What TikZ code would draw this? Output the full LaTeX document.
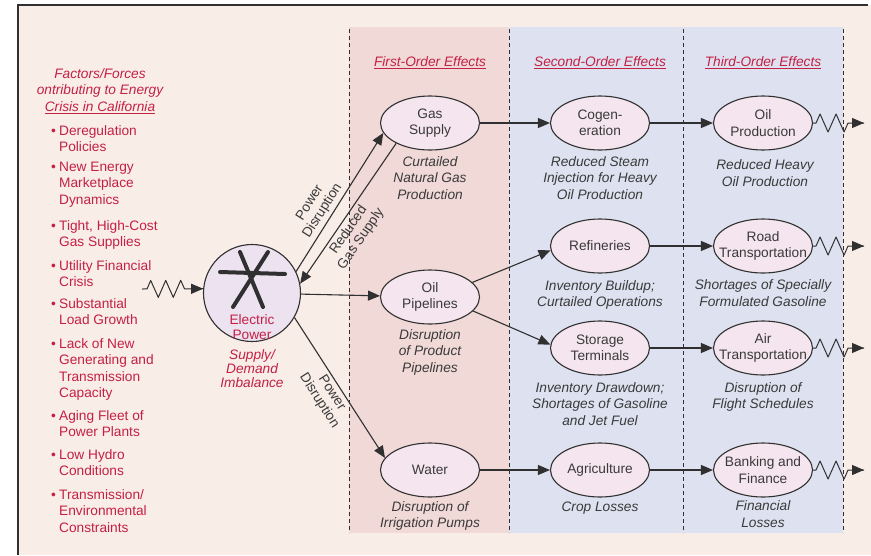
\documentclass[tikz,border=0pt]{standalone}
\usepackage{fontspec}
\setmainfont{Liberation Sans}
\usetikzlibrary{arrows.meta,shapes.geometric,decorations.pathmorphing}
\definecolor{crisred}{RGB}{196,32,68}
\definecolor{txtgray}{RGB}{58,58,58}
\definecolor{linegray}{RGB}{48,48,48}
\definecolor{framebg}{RGB}{249,237,232}
\definecolor{bandpink}{RGB}{240,217,215}
\definecolor{bandblue}{RGB}{222,225,240}
\definecolor{ellfill}{RGB}{245,229,238}
\definecolor{hubfill}{RGB}{236,226,240}
\newcommand{\effsize}{\fontsize{13.7}{16.5}\selectfont}
\tikzset{
  effnode/.style={ellipse, draw=linegray, fill=ellfill, line width=1.1pt,
                  minimum width=99pt, minimum height=54pt, inner xsep=-10pt, inner ysep=0pt,
                  align=center, text=txtgray, font=\effsize},
  effcap/.style={align=center, text=txtgray, font=\effsize\itshape, inner sep=0pt},
  ordhdr/.style={text=crisred, font=\effsize\itshape, inner sep=0pt},
  linkarr/.style={-{Triangle[length=12pt,width=10pt]}, linegray, line width=1.1pt},
  zzline/.style={linegray, line width=1pt, line join=round,
                 decorate, decoration={zigzag, segment length=15pt, amplitude=8.5pt,
                 pre length=5pt, post length=12pt}},
  zztip/.style={-{Triangle[length=12pt,width=10pt]}, linegray, line width=1pt},
  sepline/.style={linegray, line width=0.9pt, dash pattern=on 4pt off 3pt},
}
\tikzset{
  hubnode/.style={circle, draw=linegray, fill=hubfill, line width=1.1pt, minimum size=97pt, inner sep=0pt},
  spoke/.style={linegray, line width=4pt, line cap=round},
  hubtxt/.style={align=center, text=crisred, font=\fontsize{13.7}{15}\selectfont, inner sep=0pt},
  hubcap/.style={align=center, text=crisred, font=\fontsize{13.7}{14}\selectfont\itshape, inner sep=0pt},
  factor/.style={anchor=base west, inner sep=0pt, text=crisred, font=\effsize},
  pdlab/.style={align=center, text=txtgray, font=\fontsize{13.7}{15}\selectfont, inner sep=3pt},
}

\begin{document}
\begin{tikzpicture}[x=1pt, y=-1pt]
  \useasboundingbox (0,0) rectangle (871,555);
  % frame and effect bands
  \fill[framebg] (18,5) rectangle (871,555);
  \draw[linegray, line width=1.2pt] (18,555) -- (18,5) -- (868,5);
  \fill[bandpink] (349,27) rectangle (509,533);
  \fill[bandblue] (509,27) rectangle (843,533);
  \foreach \sx in {349,509,683,843}
    \draw[sepline] (\sx,29) -- (\sx,533);

  % left column
  \node[align=center, text=crisred, font=\fontsize{13.7}{16.8}\selectfont\itshape, inner sep=0pt] (ftitle) at (100,91)
    {Factors/Forces\\ontributing to Energy\\\underline{Crisis in California}};
  \foreach \fy/\ftxt in {135/{Deregulation\\Policies}, 171/{New Energy\\Marketplace\\Dynamics},
      230/{Tight, High-Cost\\Gas Supplies}, 270/{Utility Financial\\Crisis},
      308/{Substantial\\Load Growth}, 348/{Lack of New\\Generating and\\Transmission\\Capacity},
      420/{Aging Fleet of\\Power Plants}, 459/{Low Hydro\\Conditions},
      499/{Transmission/\\Environmental\\Constraints}}
    \node[factor] (f\fy) at (51,\fy)
      {\makebox[8pt][l]{\textbullet}\begin{tabular}[t]{@{}l@{}}\ftxt\end{tabular}};

  % headers
  \node[ordhdr] (h1) at (430,63) {\underline{First-Order Effects}};
  \node[ordhdr] (h2) at (600,63) {\underline{Second-Order Effects}};
  \node[ordhdr] (h3) at (763,63) {\underline{Third-Order Effects}};

  % electric power hub
  \node[hubnode] (elec) at (252,293) {};
  \draw[spoke] (240,252) -- (263,307);
  \draw[spoke] (268,252) -- (233,307);
  \draw[spoke] (220,272) -- (285,274);
  \node[hubtxt] (eptxt) at (252,327) {Electric\\Power};
  \node[hubcap] (epcap) at (252,369) {Supply/\\Demand\\Imbalance};
  \coordinate (zzin) at (142,289);
  \draw[zzline] (zzin) -- (elec.175);
  \draw[zztip, shorten <=49pt] (zzin) -- (elec.175);

  % effect nodes
  \node[effnode] (gas) at (430,123) {Gas\\Supply};
  \node[effnode] (pipe) at (430,297) {Oil\\Pipelines};
  \node[effnode] (water) at (430,470) {Water};
  \node[effnode] (cogen) at (600,123) {Cogen-\\eration};
  \node[effnode] (refin) at (600,246) {Refineries};
  \node[effnode] (stor) at (600,348) {Storage\\Terminals};
  \node[effnode] (agri) at (600,470) {Agriculture};
  \node[effnode] (oilprod) at (763,123) {Oil\\Production};
  \node[effnode] (road) at (763,246) {Road\\Transportation};
  \node[effnode] (air) at (763,348) {Air\\Transportation};
  \node[effnode] (bank) at (763,470) {Banking and\\Finance};

  % captions
  \node[effcap] (gascap) at (430,178) {Curtailed\\Natural Gas\\Production};
  \node[effcap] (pipecap) at (430,352) {Disruption\\of Product\\Pipelines};
  \node[effcap] (watercap) at (430,516) {Disruption of\\Irrigation Pumps};
  \node[effcap] (cogencap) at (600,178) {Reduced Steam\\Injection for Heavy\\Oil Production};
  \node[effcap] (refincap) at (600,295) {Inventory Buildup;\\Curtailed Operations};
  \node[effcap] (storcap) at (600,404) {Inventory Drawdown;\\Shortages of Gasoline\\and Jet Fuel};
  \node[effcap] (agricap) at (600,508) {Crop Losses};
  \node[effcap] (oilprodcap) at (765,173) {Reduced Heavy\\Oil Production};
  \node[effcap] (roadcap) at (763,293) {Shortages of Specially\\Formulated Gasoline};
  \node[effcap] (aircap) at (763,397) {Disruption of\\Flight Schedules};
  \node[effcap] (bankcap) at (763,514) {Financial\\Losses};

  % links
  \draw[linkarr] (elec.26) -- node[pdlab, sloped, above, pos=0.4] (pdup) {Power\\Disruption} (gas.192);
  \draw[linkarr] (gas.211) -- node[pdlab, sloped, below, pos=0.58] (rgs) {Reduced\\Gas Supply} (elec.11);
  \draw[linkarr] (elec) -- (pipe);
  \draw[linkarr] (elec.-30) -- node[pdlab, sloped, below] (pddown) {Power\\Disruption} (water.165);
  \draw[linkarr] (gas) -- (cogen);
  \draw[linkarr] (cogen) -- (oilprod);
  \draw[linkarr] (pipe.19) -- (refin.185);
  \draw[linkarr] (pipe.-18) -- (stor.176);
  \draw[linkarr] (refin) -- (road);
  \draw[linkarr] (stor) -- (air);
  \draw[linkarr] (water) -- (agri);
  \draw[linkarr] (agri) -- (bank);

  % ripple-on effects
  \foreach \src/\sy in {oilprod/123, road/246, air/348, bank/470} {
    \coordinate (\src out) at (864,\sy);
    \draw[zzline, decoration={pre length=3pt, segment length=16pt, amplitude=9pt}] (\src.east) -- (\src out);
    \draw[zztip, shorten <=39pt] (\src.east) -- (\src out);
  }
\end{tikzpicture}
\end{document}
